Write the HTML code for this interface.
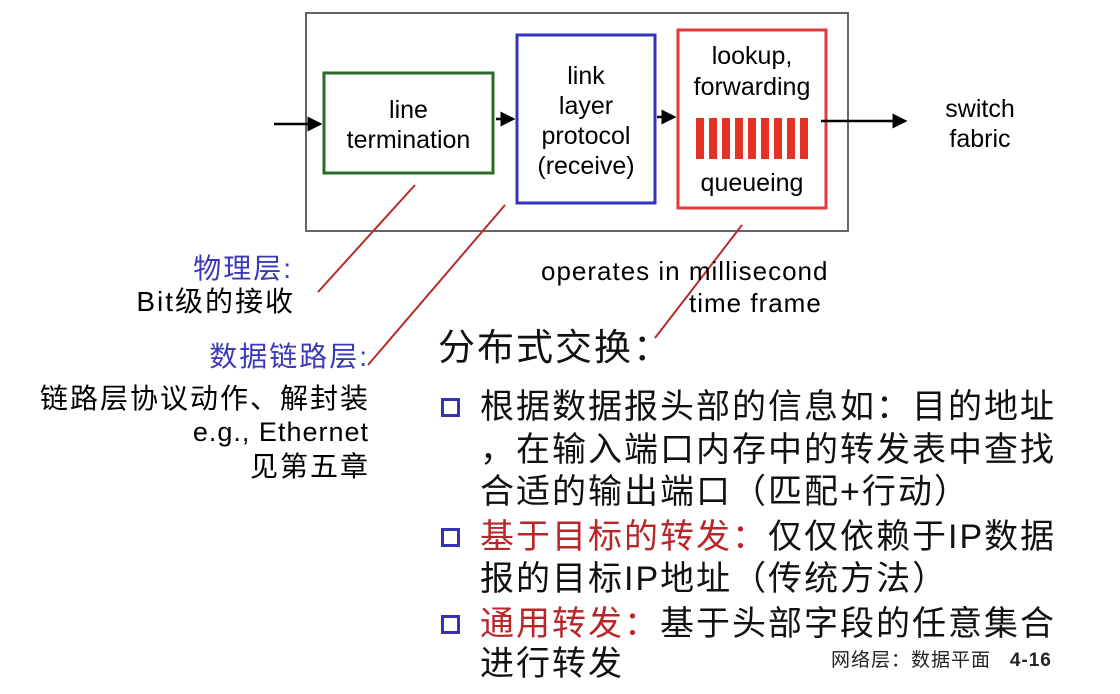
<!DOCTYPE html>
<html><head><meta charset="utf-8"><style>
body{margin:0;width:1120px;height:694px;background:#fff;position:relative;overflow:hidden;font-family:"Liberation Sans","Noto Sans CJK SC",sans-serif;}
.t{position:absolute;white-space:nowrap;line-height:1;}
.r{text-align:right}
.bl{color:#3a3ab8}
.rd{color:#b8262a}
.big{font-size:34px;letter-spacing:2px;color:#111}
.lf{font-size:28px;letter-spacing:2px}
.bx{position:absolute;width:13px;height:13px;border:3px solid #3434b0;}
.d{font-size:25px}
</style></head><body>
<svg width="1120" height="694" style="position:absolute;left:0;top:0">
<defs><marker id="a" markerWidth="6" markerHeight="6" refX="5" refY="3" orient="auto" markerUnits="strokeWidth"><path d="M0,0 L6,3 L0,6 z" fill="#000"/></marker></defs>
<rect x="306" y="13" width="542" height="218" fill="none" stroke="#666" stroke-width="2"/>
<rect x="324" y="73" width="169" height="100" fill="none" stroke="#2a6a2a" stroke-width="3"/>
<rect x="517" y="35" width="138" height="168" fill="none" stroke="#3333c0" stroke-width="3"/>
<rect x="678" y="30" width="148" height="178" fill="none" stroke="#e23a3a" stroke-width="3"/>
<g fill="#e53224">
<rect x="696" y="118" width="8" height="41"/><rect x="709" y="118" width="8" height="41"/><rect x="722" y="118" width="8" height="41"/><rect x="735" y="118" width="8" height="41"/><rect x="748" y="118" width="8" height="41"/><rect x="761" y="118" width="8" height="41"/><rect x="774" y="118" width="8" height="41"/><rect x="787" y="118" width="8" height="41"/><rect x="800" y="118" width="8" height="41"/>
</g>
<g stroke="#000" stroke-width="2.5">
<line x1="274" y1="124" x2="320" y2="124" marker-end="url(#a)"/>
<line x1="496" y1="119" x2="513" y2="119" marker-end="url(#a)"/>
<line x1="657" y1="117" x2="674" y2="117" marker-end="url(#a)"/>
<line x1="821" y1="121" x2="905" y2="121" marker-end="url(#a)"/>
</g>
<g stroke="#b82a2a" stroke-width="2">
<line x1="415" y1="185" x2="318" y2="292"/>
<line x1="505" y1="205" x2="368" y2="365"/>
<line x1="742" y1="225" x2="655" y2="338"/>
</g>
</svg>
<div class="t d" style="left:324px;top:95px;width:169px;text-align:center;line-height:30px">line<br>termination</div>
<div class="t d" style="left:517px;top:61px;width:138px;text-align:center;line-height:30px">link<br>layer<br>protocol<br>(receive)</div>
<div class="t d" style="left:678px;top:41px;width:148px;text-align:center;line-height:31px">lookup,<br>forwarding</div>
<div class="t d" style="left:678px;top:171px;width:148px;text-align:center">queueing</div>
<div class="t d" style="left:930px;top:94px;width:100px;text-align:center;line-height:30px">switch<br>fabric</div>

<div class="t r bl lf" style="right:827px;top:255px">物理层:</div>
<div class="t r lf" style="right:825px;top:288px">Bit级的接收</div>
<div class="t r bl lf" style="right:751px;top:343px">数据链路层:</div>
<div class="t r lf" style="right:750px;top:385px">链路层协议动作、解封装</div>
<div class="t r lf" style="right:751px;top:419px;letter-spacing:1px;font-size:27px">e.g., Ethernet</div>
<div class="t r lf" style="right:750px;top:453px">见第五章</div>

<div class="t" style="left:541px;top:258px;font-size:26px;letter-spacing:1px">operates in millisecond</div>
<div class="t" style="left:689px;top:290px;font-size:26px;letter-spacing:1px">time frame</div>

<div class="t" style="left:438px;top:329px;font-size:37px;letter-spacing:2px;color:#111">分布式交换：</div>
<div class="bx" style="left:441px;top:398px"></div>
<div class="t big" style="left:480px;top:390px">根据数据报头部的信息如：目的地址</div>
<div class="t big" style="left:480px;top:433px">，在输入端口内存中的转发表中查找</div>
<div class="t big" style="left:480px;top:475px">合适的输出端口（匹配+行动）</div>
<div class="bx" style="left:441px;top:528px"></div>
<div class="t big" style="left:480px;top:520px"><span class="rd">基于目标的转发：</span>仅仅依赖于IP数据</div>
<div class="t big" style="left:480px;top:562px">报的目标IP地址（传统方法）</div>
<div class="bx" style="left:441px;top:615px"></div>
<div class="t big" style="left:480px;top:607px"><span class="rd">通用转发：</span>基于头部字段的任意集合</div>
<div class="t big" style="left:480px;top:647px">进行转发</div>
<div class="t" style="left:831px;top:651px;font-size:19px;letter-spacing:1px;color:#222">网络层：数据平面&nbsp;&nbsp;&nbsp;<b>4-16</b></div>
</body></html>
